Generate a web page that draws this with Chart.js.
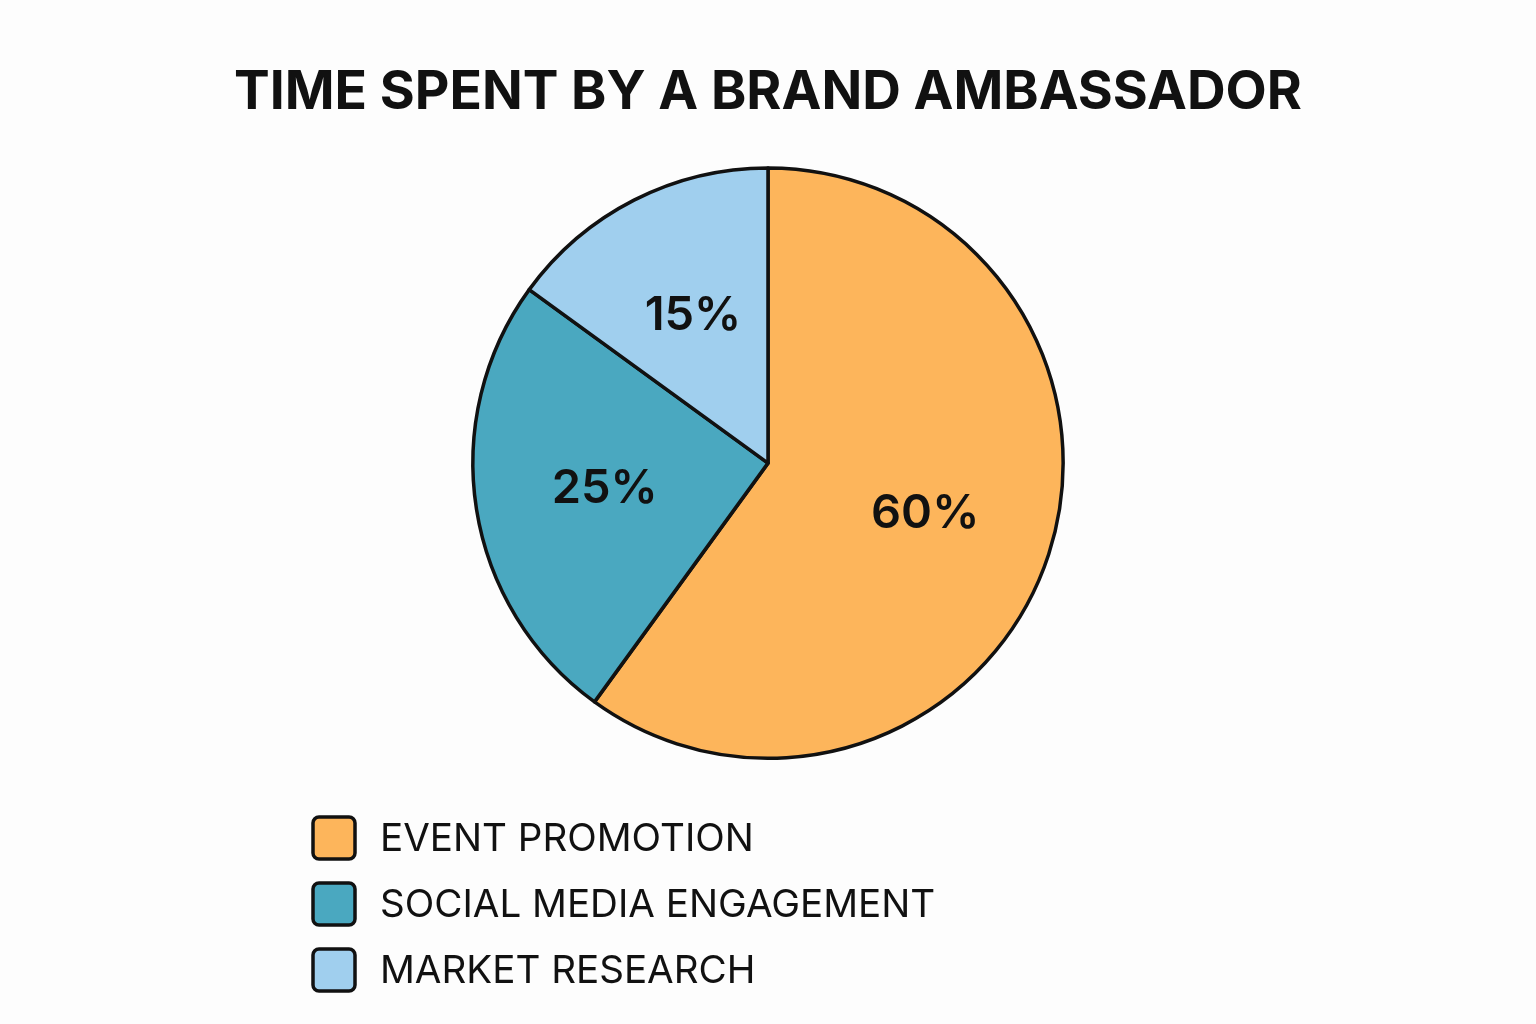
<!DOCTYPE html>
<html>
<head>
<meta charset="utf-8">
<script src="https://cdn.jsdelivr.net/npm/chart.js@4"></script>
<style>
html,body{margin:0;padding:0;background:#fdfdfd;}
#wrap{width:1536px;height:1024px;position:relative;}
</style>
</head>
<body>
<div id="wrap"><canvas id="c" width="1536" height="1024"></canvas></div>
<script>
const titleText = "TIME SPENT BY A BRAND AMBASSADOR";
const categories = ["EVENT PROMOTION", "SOCIAL MEDIA ENGAGEMENT", "MARKET RESEARCH"];
const values = [60, 25, 15];
const sliceLabels = ["60%", "25%", "15%"];
const colors = ["#FDB55B", "#4AA8C0", "#A0CFEE"];

const FONT = "Inter, 'Noto Sans', sans-serif";

const sliceLabelPlugin = {
  id: 'sliceLabels',
  afterDatasetsDraw(chart) {
    const ctx = chart.ctx;
    const meta = chart.getDatasetMeta(0);
    ctx.save();
    ctx.fillStyle = '#111';
    ctx.font = "600 47px " + FONT;
    ctx.textAlign = 'center';
    ctx.textBaseline = 'middle';
    meta.data.forEach((arc, i) => {
      const mid = (arc.startAngle + arc.endAngle) / 2;
      const r = arc.outerRadius * 0.56;
      ctx.fillText(sliceLabels[i], arc.x + Math.cos(mid) * r, arc.y + Math.sin(mid) * r);
    });
    ctx.restore();
  }
};

const legendPlugin = {
  id: 'listLegend',
  afterDraw(chart) {
    const ctx = chart.ctx;
    ctx.save();
    const x0 = 313, y0 = 838, gap = 66, box = 42;
    chart.data.labels.forEach((lab, i) => {
      const cy = y0 + i * gap;
      ctx.beginPath();
      ctx.roundRect(x0, cy - box / 2, box, box, 6);
      ctx.fillStyle = colors[i];
      ctx.fill();
      ctx.lineWidth = 3.5;
      ctx.strokeStyle = '#111';
      ctx.stroke();
      ctx.fillStyle = '#111';
      ctx.font = "400 38.6px " + FONT;
      ctx.textAlign = 'left';
      ctx.textBaseline = 'middle';
      ctx.fillText(lab, 380, cy + 1);
    });
    ctx.restore();
  }
};

new Chart(document.getElementById('c'), {
  type: 'pie',
  data: {
    labels: categories,
    datasets: [{
      data: values,
      backgroundColor: colors,
      borderColor: '#111',
      borderWidth: 3.5,
      borderJoinStyle: 'round'
    }]
  },
  options: {
    responsive: false,
    animation: false,
    layout: { padding: { top: 0, bottom: 264, left: 0, right: 0 } },
    plugins: {
      legend: { display: false },
      tooltip: { enabled: false },
      title: {
        display: true,
        text: titleText,
        color: '#111',
        font: { family: FONT, size: 53.5, weight: '700', lineHeight: 1.2 },
        padding: { top: 61, bottom: 41 }
      }
    }
  },
  plugins: [sliceLabelPlugin, legendPlugin]
});
</script>
</body>
</html>
